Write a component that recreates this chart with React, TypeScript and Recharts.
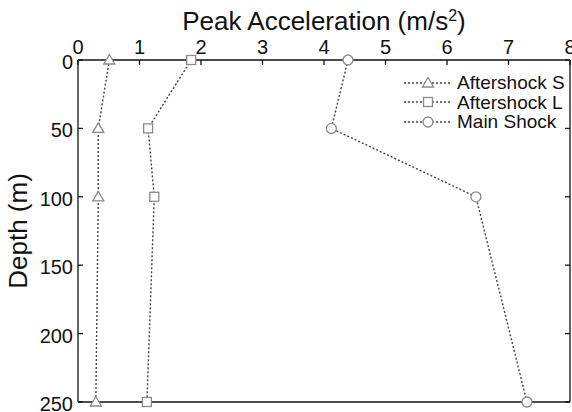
import React from "react";
import { ScatterChart, Scatter, XAxis, YAxis, Legend } from "recharts";

const depths = [0, 50, 100, 250];
const aftershockS = [0.51, 0.33, 0.33, 0.29];
const aftershockL = [1.84, 1.14, 1.24, 1.12];
const mainShock = [4.39, 4.12, 6.47, 7.3];

const xTicks = [0, 1, 2, 3, 4, 5, 6, 7, 8];
const yTicks = [0, 50, 100, 150, 200, 250];

const toPoints = (vals: number[]) => vals.map((v, i) => ({ x: v, y: depths[i] }));

const INK = "#111";
const MARK = "#8a8a8a";
const FONT = "'Liberation Sans', Arial, sans-serif";
const TICK_LEN = 5;

const lineStyle = { stroke: "#444", strokeWidth: 1.4, strokeDasharray: "2 2" };

const Tri = ({ cx, cy }: any) => (
  <polygon
    points={`${cx},${cy - 5.5} ${cx - 5.5},${cy + 4} ${cx + 5.5},${cy + 4}`}
    fill="#fff"
    stroke={MARK}
    strokeWidth={1.3}
  />
);
const Sq = ({ cx, cy }: any) => (
  <rect x={cx - 4.5} y={cy - 4.5} width={9} height={9} fill="#fff" stroke={MARK} strokeWidth={1.3} />
);
const Circ = ({ cx, cy }: any) => <circle cx={cx} cy={cy} r={5} fill="#fff" stroke={MARK} strokeWidth={1.3} />;

const series = [
  { name: "Aftershock S", values: aftershockS, Shape: Tri },
  { name: "Aftershock L", values: aftershockL, Shape: Sq },
  { name: "Main Shock", values: mainShock, Shape: Circ },
];

const TopTick = (p: any) => (
  <g>
    <text x={p.x} y={p.y} textAnchor="middle" fontSize={20} fontFamily={FONT} fill={INK}>
      {p.payload.value}
    </text>
    <line x1={p.x} x2={p.x} y1={p.y + 6} y2={p.y + 6 + TICK_LEN} stroke={INK} strokeWidth={1.3} />
  </g>
);

const LeftTick = (p: any) => (
  <g>
    <text x={p.x} y={p.y} dy={9} textAnchor="end" fontSize={20} fontFamily={FONT} fill={INK}>
      {p.payload.value}
    </text>
    <line x1={p.x + 5} x2={p.x + 5 + TICK_LEN} y1={p.y} y2={p.y} stroke={INK} strokeWidth={1.3} />
  </g>
);

const BottomTick = (p: any) => (
  <line x1={p.x} x2={p.x} y1={p.y} y2={p.y - TICK_LEN} stroke={INK} strokeWidth={1.3} />
);

const RightTick = (p: any) => (
  <line x1={p.x} x2={p.x - TICK_LEN} y1={p.y} y2={p.y} stroke={INK} strokeWidth={1.3} />
);

const TitleLabel = ({ viewBox }: any) => (
  <text
    x={viewBox.x + viewBox.width / 2}
    y={30}
    textAnchor="middle"
    fontSize={26}
    fontFamily={FONT}
    fill={INK}
  >
    Peak Acceleration (m/s
    <tspan dy={-9} fontSize={16}>2</tspan>
    <tspan dy={9}>)</tspan>
  </text>
);

const DepthLabel = ({ viewBox }: any) => {
  const cy = viewBox.y + viewBox.height / 2;
  return (
    <text
      x={18}
      y={cy}
      transform={`rotate(-90 18 ${cy})`}
      textAnchor="middle"
      dominantBaseline="central"
      fontSize={26}
      fontFamily={FONT}
      fill={INK}
    >
      Depth (m)
    </text>
  );
};

const LegendBox = () => (
  <div style={{ fontFamily: FONT, fontSize: 19, color: INK, lineHeight: "19.5px" }}>
    {series.map((s) => (
      <div key={s.name} style={{ display: "flex", alignItems: "center", height: 19.5 }}>
        <svg width={50} height={14} style={{ marginRight: 4 }}>
          <line x1={1} x2={49} y1={7} y2={7} {...lineStyle} />
          <s.Shape cx={25} cy={7} />
        </svg>
        <span>{s.name}</span>
      </div>
    ))}
  </div>
);

export default function App() {
  const axisLine = { stroke: INK, strokeWidth: 1.3 };
  return (
    <div style={{ position: "absolute", left: 0, top: 0, background: "#fff" }}>
      <ScatterChart width={572} height={412} margin={{ top: 0, right: 0, bottom: 0, left: 0 }}>
        <XAxis
          xAxisId="top"
          orientation="top"
          type="number"
          dataKey="x"
          domain={[0, 8]}
          ticks={xTicks}
          interval={0}
          height={60}
          tickSize={0}
          tickMargin={6}
          tickLine={false}
          axisLine={axisLine}
          tick={<TopTick />}
          label={TitleLabel}
        />
        <XAxis
          xAxisId="bottom"
          orientation="bottom"
          type="number"
          domain={[0, 8]}
          ticks={xTicks}
          interval={0}
          height={10}
          tickSize={0}
          tickMargin={0}
          tickLine={false}
          axisLine={axisLine}
          tick={<BottomTick />}
          allowDataOverflow
        />
        <YAxis
          yAxisId="left"
          orientation="left"
          type="number"
          dataKey="y"
          domain={[0, 250]}
          ticks={yTicks}
          interval={0}
          reversed
          width={78}
          tickSize={0}
          tickMargin={5}
          tickLine={false}
          axisLine={axisLine}
          tick={<LeftTick />}
          label={DepthLabel}
        />
        <YAxis
          yAxisId="right"
          orientation="right"
          type="number"
          domain={[0, 250]}
          ticks={yTicks}
          interval={0}
          reversed
          width={2}
          tickSize={0}
          tickMargin={0}
          tickLine={false}
          axisLine={axisLine}
          tick={<RightTick />}
          allowDataOverflow
        />
        <Legend
          layout="horizontal"
          verticalAlign="middle"
          align="center"
          content={<LegendBox />}
          wrapperStyle={{ top: 73, left: 403, width: 169 }}
        />
        {series.map((s) => (
          <Scatter
            key={s.name}
            name={s.name}
            xAxisId="top"
            yAxisId="left"
            data={toPoints(s.values)}
            line={lineStyle}
            lineType="joint"
            shape={(p: any) => <s.Shape cx={p.cx} cy={p.cy} />}
            isAnimationActive={false}
          />
        ))}
      </ScatterChart>
    </div>
  );
}
